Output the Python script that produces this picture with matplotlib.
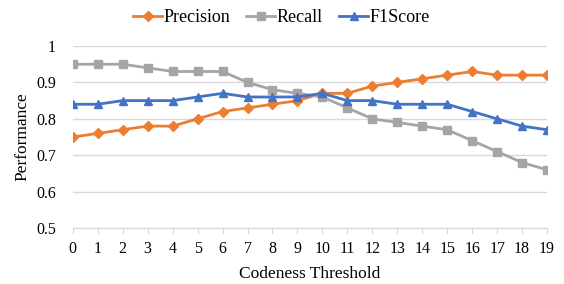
import numpy as np
import matplotlib.pyplot as plt

plt.rcParams['font.family'] = ['Liberation Serif', 'DejaVu Serif']

thresholds = list(range(20))
precision = [0.75, 0.76, 0.77, 0.78, 0.78, 0.80, 0.82, 0.83, 0.84, 0.85,
             0.87, 0.87, 0.89, 0.90, 0.91, 0.92, 0.93, 0.92, 0.92, 0.92]
recall = [0.95, 0.95, 0.95, 0.94, 0.93, 0.93, 0.93, 0.90, 0.88, 0.87,
          0.86, 0.83, 0.80, 0.79, 0.78, 0.77, 0.74, 0.71, 0.68, 0.66]
f1score = [0.84, 0.84, 0.85, 0.85, 0.85, 0.86, 0.87, 0.86, 0.86, 0.86,
           0.87, 0.85, 0.85, 0.84, 0.84, 0.84, 0.82, 0.80, 0.78, 0.77]

fig = plt.figure(figsize=(5.64, 2.84), dpi=100)
ax = fig.add_axes([0.129, 0.197, 0.841, 0.641])

ax.plot(thresholds, precision, color='#ED7D31', marker='D', markersize=5, lw=2, label='Precision')
ax.plot(thresholds, recall, color='#A5A5A5', marker='s', markersize=6, lw=2, label='Recall')
ax.plot(thresholds, f1score, color='#4472C4', marker='^', markersize=6, lw=2, label='F1Score')

ax.set_xlim(0, 19)
ax.set_ylim(0.5, 1.0)
ax.set_yticks(np.arange(0.5, 1.01, 0.1))
ax.set_yticklabels(['0.5', '0.6', '0.7', '0.8', '0.9', '1'])
ax.set_xticks(thresholds)
ax.grid(axis='y', color='#D9D9D9', lw=1)
ax.set_axisbelow(True)
for s in ['top', 'right', 'left']:
    ax.spines[s].set_visible(False)
ax.spines['bottom'].set_color('#D9D9D9')
ax.tick_params(axis='y', length=0, labelsize=11.5, pad=12)
ax.tick_params(axis='x', length=4, color='#D9D9D9', labelsize=11.5, pad=5)
ax.set_xlabel('Codeness Threshold', fontsize=12.5, labelpad=7)
ax.set_ylabel('Performance', fontsize=12.5)

ax.legend(loc='lower center', bbox_to_anchor=(0.44, 1.07), ncol=3, frameon=False,
          fontsize=13, handlelength=1.6, handletextpad=0.08, columnspacing=0.9,
          borderaxespad=0)

plt.savefig('out.png', dpi=100)
